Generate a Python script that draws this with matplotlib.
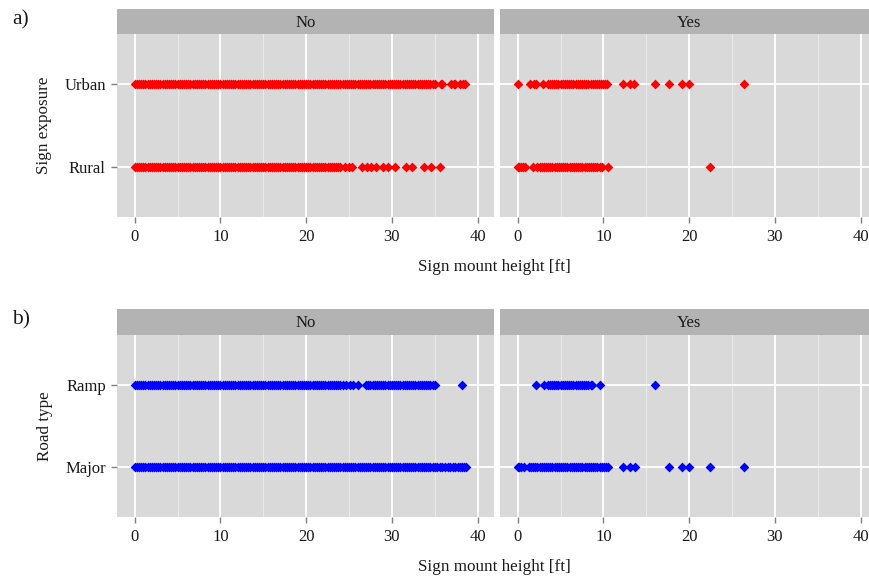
import matplotlib
matplotlib.use("Agg")
import matplotlib.pyplot as plt

plt.rcParams['font.family'] = ['Liberation Serif', 'DejaVu Serif']

# sign mount heights [ft]
# heights below 24 ft occur in all four "No" strips
low_no = [0.0, 0.25, 0.5, 0.75, 1.0, 1.25, 1.5, 1.75, 2.0, 2.25, 2.5, 2.75, 3.0, 3.25, 3.5, 3.75,
          4.0, 4.25, 4.5, 4.75, 5.0, 5.25, 5.5, 5.75, 6.0, 6.25, 6.5, 6.75, 7.0, 7.25, 7.5, 7.75,
          8.0, 8.25, 8.5, 8.75, 9.0, 9.25, 9.5, 9.75, 10.0, 10.25, 10.5, 10.75, 11.0, 11.25,
          11.5, 11.75, 12.0, 12.25, 12.5, 12.75, 13.0, 13.25, 13.5, 13.75, 14.0, 14.25, 14.5,
          14.75, 15.0, 15.25, 15.5, 15.75, 16.0, 16.25, 16.5, 16.75, 17.0, 17.25, 17.5, 17.75,
          18.0, 18.25, 18.5, 18.75, 19.0, 19.25, 19.5, 19.75, 20.0, 20.25, 20.5, 20.75, 21.0,
          21.25, 21.5, 21.75, 22.0, 22.25, 22.5, 22.75, 23.0, 23.25, 23.5, 23.75]
mid_no = [24.0, 24.25, 24.5, 24.75, 25.0, 25.25, 25.5, 25.75, 26.0, 26.25, 26.5, 26.75, 27.0,
          27.25, 27.5, 27.75, 28.0, 28.25, 28.5, 28.75, 29.0, 29.25, 29.5, 29.75, 30.0, 30.25,
          30.5, 30.75, 31.0, 31.25, 31.5, 31.75, 32.0, 32.25, 32.5, 32.75, 33.0, 33.25, 33.5,
          33.75, 34.0, 34.25, 34.5, 34.75]

urban_no = low_no + mid_no + [35.0, 35.7, 35.9, 36.9, 37.2, 37.4, 38.0, 38.3, 38.5]
rural_no = low_no + [24.0, 24.5, 25.0, 25.3, 26.5, 27.1, 27.6, 28.2, 29.0, 29.6, 30.4, 31.7,
                     32.3, 33.7, 34.6, 35.6]
urban_yes = [0.0, 1.4, 1.9, 2.1, 3.0, 3.5, 3.75, 4.0, 4.25, 4.5, 4.75, 5.0, 5.25, 5.5, 5.75,
             6.0, 6.25, 6.5, 6.75, 7.0, 7.25, 7.5, 7.75, 8.0, 8.25, 8.5, 8.75, 9.0, 9.25, 9.5,
             9.75, 10.0, 10.2, 10.4, 12.3, 13.1, 13.6, 16.0, 17.6, 19.2, 20.0, 26.4]
rural_yes = [0.0, 0.2, 0.4, 0.6, 0.9, 1.8, 2.3, 2.55, 2.8, 3.05, 3.3, 3.55, 3.8, 4.05, 4.3,
             4.55, 4.8, 5.05, 5.3, 5.55, 5.8, 6.05, 6.3, 6.55, 6.8, 7.05, 7.3, 7.55, 7.8, 8.05,
             8.3, 8.55, 8.8, 9.05, 9.3, 9.55, 9.8, 10.5, 22.4]

ramp_no = low_no + [23.9, 24.3, 24.7, 25.1, 25.5, 26.0, 27.0, 27.25, 27.5, 27.75, 28.0, 28.25,
                    28.5, 28.75, 29.0, 29.25, 29.5, 29.75, 30.0, 30.25, 30.5, 30.75, 31.0,
                    31.25, 31.5, 31.75, 32.0, 32.25, 32.5, 32.75, 33.0, 33.25, 33.5, 33.75,
                    34.0, 34.25, 34.5, 34.75, 35.0, 38.2]
major_no = low_no + mid_no + [35.0, 35.3, 35.6, 35.9, 36.2, 36.5, 36.8, 37.1, 37.4, 37.7,
                              37.9, 38.2, 38.4, 38.7]
ramp_yes = [2.1, 3.1, 3.5, 3.75, 4.0, 4.25, 4.5, 4.75, 5.0, 5.25, 5.5, 5.75, 6.0, 6.25, 6.5,
            6.75, 7.0, 7.25, 7.5, 7.75, 8.0, 8.25, 8.5, 8.7, 9.6, 16.0]
major_yes = [0.0, 0.2, 0.4, 0.7, 1.3, 1.55, 1.8, 2.05, 2.3, 2.55, 2.8, 3.05, 3.3, 3.55, 3.8,
             4.05, 4.3, 4.55, 4.8, 5.05, 5.3, 5.55, 5.8, 6.05, 6.3, 6.55, 6.8, 7.05, 7.3, 7.55,
             7.8, 8.05, 8.3, 8.55, 8.8, 9.05, 9.3, 9.55, 9.8, 10.05, 10.3, 10.5, 12.3, 13.1,
             13.7, 17.6, 19.2, 20.0, 22.4, 26.4]

facets = ['No', 'Yes']
x_ticks = [0, 10, 20, 30, 40]

panels = [
    dict(tag='a)', ylabel='Sign exposure', cats=['Rural', 'Urban'], color='#FF0000',
         data={'No': [rural_no, urban_no], 'Yes': [rural_yes, urban_yes]}),
    dict(tag='b)', ylabel='Road type', cats=['Major', 'Ramp'], color='#0000FF',
         data={'No': [major_no, ramp_no], 'Yes': [major_yes, ramp_yes]}),
]

W, H = 870, 577
fig = plt.figure(figsize=(W / 100, H / 100), dpi=100)

def fr(x0, y0, x1, y1):
    # pixel box (top-left origin) -> figure fraction rect
    return [x0 / W, 1 - y1 / H, (x1 - x0) / W, (y1 - y0) / H]

panel_x = [(117, 494.3), (500, 877.3)]
rows = [(9, 34, 216.7), (309, 335, 516.7)]
txt = '#1A1A1A'

for p, (s_top, p_top, p_bot) in zip(panels, rows):
    for j, (f, (x0, x1)) in enumerate(zip(facets, panel_x)):
        ax = fig.add_axes(fr(x0, p_top, x1, p_bot))
        ax.set_facecolor('#D9D9D9')
        for sp in ax.spines.values():
            sp.set_visible(False)
        ax.set_xlim(-2.06, 41.95)
        ax.set_ylim(0.4, 2.6)
        ax.set_xticks(x_ticks)
        ax.set_xticks([5, 15, 25, 35], minor=True)
        ax.set_yticks([1, 2])
        ax.grid(True, which='major', color='white', lw=1.3)
        ax.grid(True, which='minor', axis='x', color='#EBEBEB', lw=0.7)
        ax.set_axisbelow(True)
        ax.tick_params(axis='x', which='major', length=4, width=1, color='#7F7F7F',
                       labelsize=12, labelcolor=txt, pad=5)
        ax.tick_params(which='minor', length=0)
        if j == 0:
            ax.set_yticklabels(p['cats'])
            ax.tick_params(axis='y', length=4, width=1, color='#7F7F7F',
                           labelsize=12, labelcolor=txt, pad=4)
            ax.set_ylabel(p['ylabel'], fontsize=12.3, color=txt, labelpad=9)
        else:
            ax.tick_params(axis='y', length=0, labelleft=False)
        for k, vals in enumerate(p['data'][f]):
            ax.scatter(vals, [k + 1] * len(vals), marker='D', s=25, linewidths=0,
                       color=p['color'], clip_on=False, zorder=3)

        sax = fig.add_axes(fr(x0, s_top, x1, p_top))
        sax.set_facecolor('#B3B3B3')
        sax.set_xticks([])
        sax.set_yticks([])
        for sp in sax.spines.values():
            sp.set_visible(False)
        sax.text(0.5, 0.45, f, transform=sax.transAxes, ha='center', va='center',
                 fontsize=12, color=txt)

    fig.text(494 / W, 1 - (p_bot + 50) / H, 'Sign mount height [ft]', ha='center',
             va='center', fontsize=12.3, color=txt)
    fig.text(12 / W, 1 - (s_top + 11) / H, p['tag'], ha='left', va='center',
             fontsize=15.5, color=txt)

fig.savefig('out.png', dpi=100)
